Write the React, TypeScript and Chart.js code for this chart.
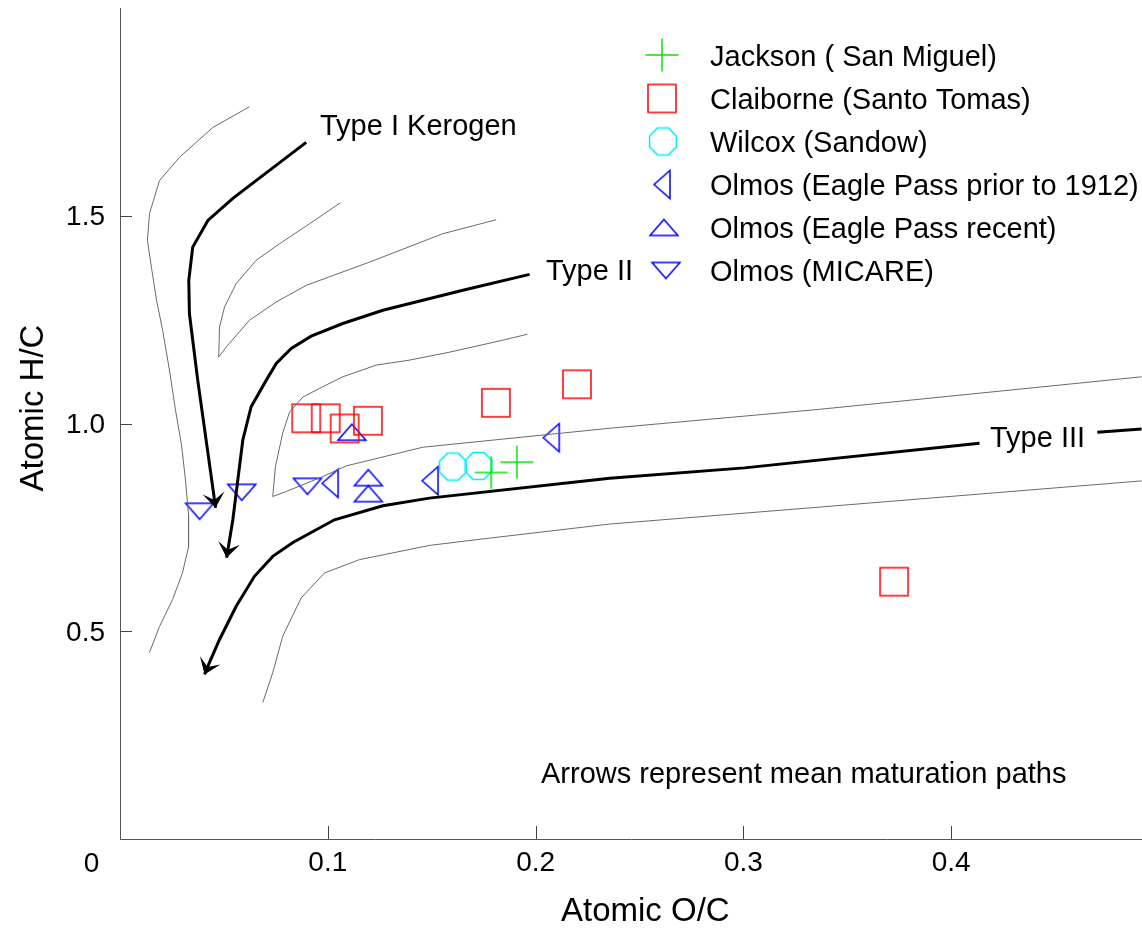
import React, { useEffect, useRef } from 'react';
import { Chart, registerables } from 'chart.js';

Chart.register(...registerables);

const FONT = '"Liberation Sans", Arial, Helvetica, sans-serif';

// Axis ranges and tick labels
const X_MIN = 0;
const X_MAX = 0.4918;
const Y_MIN = 0;
const Y_MAX = 2.0;
const xTickValues = [0.1, 0.2, 0.3, 0.4];
const yTickValues = [0.5, 1.0, 1.5];

// Sample series (Atomic O/C, Atomic H/C)
const jacksonX = [0.1786, 0.191];
const jacksonY = [0.882, 0.907];
const claiborneX = [0.0896, 0.099, 0.1081, 0.1193, 0.1809, 0.2199, 0.3725];
const claiborneY = [1.0125, 1.0125, 0.988, 1.0065, 1.0497, 1.0944, 0.6194];
const wilcoxX = [0.1602, 0.1725];
const wilcoxY = [0.8963, 0.8979];
const olmosPriorX = [0.1011, 0.1492, 0.2075];
const olmosPriorY = [0.856, 0.8624, 0.9659];
const olmosRecentX = [0.1116, 0.1195, 0.1195];
const olmosRecentY = [0.979, 0.8696, 0.8312];
const olmosMicareX = [0.0383, 0.0586, 0.0902];
const olmosMicareY = [0.7887, 0.8343, 0.8487];

// Mean maturation paths (arrow tip is the last point)
const typeIX = [0.0896, 0.0543, 0.0423, 0.035, 0.0331, 0.0334, 0.0374, 0.046];
const typeIY = [1.6766, 1.5419, 1.4886, 1.4245, 1.3445, 1.2646, 1.1044, 0.7971];
const typeIIX = [0.1971, 0.165, 0.1265, 0.1072, 0.092, 0.0824, 0.0752, 0.0704, 0.0631, 0.0591, 0.0567, 0.0543, 0.0513];
const typeIIY = [1.3589, 1.3205, 1.2725, 1.2406, 1.2101, 1.1806, 1.1446, 1.1044, 1.0403, 0.9604, 0.8643, 0.7683, 0.6771];
const typeIIIX = [0.4916, 0.4703, 0.44, 0.4136, 0.3005, 0.2356, 0.1489, 0.1265, 0.1032, 0.0832, 0.0735, 0.0647, 0.0559, 0.0479, 0.0423, 0.0407];
const typeIIIY = [0.9868, 0.9789, null, 0.9524, 0.8932, 0.8684, 0.8204, 0.8019, 0.7683, 0.7138, 0.6802, 0.6322, 0.5601, 0.4802, 0.4161, 0.3962];

// Envelope (boundary) lines
const envAX = [0.0623, 0.0447, 0.0286, 0.019, 0.0142, 0.0132, 0.0152, 0.0176, 0.0205, 0.0238, 0.0267, 0.0296, 0.0315, 0.033, 0.033, 0.0301, 0.0253, 0.019, 0.0142];
const envAY = [1.7623, 1.7126, 1.6406, 1.5846, 1.5054, 1.4406, 1.3733, 1.2965, 1.2245, 1.1285, 1.0324, 0.9484, 0.8643, 0.7803, 0.7035, 0.641, 0.5762, 0.5114, 0.449];
const envBX = [0.106, 0.0912, 0.0768, 0.0655, 0.0559, 0.0503, 0.0479, 0.0475, 0.0519, 0.0623, 0.0752, 0.0896, 0.1201, 0.1553, 0.181];
const envBY = [1.5311, 1.4807, 1.4327, 1.3926, 1.3366, 1.2804, 1.2324, 1.1604, 1.1885, 1.2485, 1.2925, 1.3325, 1.3885, 1.4567, 1.4903];
const envCX = [0.1961, 0.1842, 0.1586, 0.1393, 0.1233, 0.1072, 0.096, 0.088, 0.0816, 0.0783, 0.0748, 0.0735, 0.08, 0.0976, 0.1089, 0.1457, 0.2356, 0.3366, 0.4916];
const envCY = [1.2149, 1.2005, 1.1717, 1.1525, 1.1405, 1.1124, 1.0845, 1.0636, 1.0276, 0.9772, 0.8963, 0.8243, 0.8363, 0.8723, 0.898, 0.9429, 0.9885, 1.0341, 1.1124];
const envDX = [0.0687, 0.0735, 0.0783, 0.0872, 0.0984, 0.1152, 0.1489, 0.1714, 0.2356, 0.3366, 0.4916];
const envDY = [0.3282, 0.4002, 0.4881, 0.5803, 0.6403, 0.6723, 0.7066, 0.7203, 0.758, 0.7988, 0.8619];

const seriesLabels = [
  'Jackson ( San Miguel)',
  'Claiborne (Santo Tomas)',
  'Wilcox (Sandow)',
  'Olmos (Eagle Pass prior to 1912)',
  'Olmos (Eagle Pass recent)',
  'Olmos (MICARE)',
];

const zip = (xs: number[], ys: (number | null)[]) => xs.map((x, i) => ({ x, y: ys[i] }));

function makeMarker(kind: string, color: string): HTMLCanvasElement {
  const size = 40;
  const c = document.createElement('canvas');
  c.width = size;
  c.height = size;
  const g = c.getContext('2d') as CanvasRenderingContext2D;
  g.strokeStyle = color;
  g.lineWidth = 1.5;
  const m = size / 2;
  g.beginPath();
  if (kind === 'plus') {
    g.moveTo(m - 16.5, m);
    g.lineTo(m + 16.5, m);
    g.moveTo(m, m - 16.5);
    g.lineTo(m, m + 16.5);
  } else if (kind === 'square') {
    g.rect(m - 14, m - 14, 28, 28);
  } else if (kind === 'octagon') {
    for (let k = 0; k < 8; k++) {
      const a = Math.PI / 8 + (k * Math.PI) / 4;
      const px = m + 14.5 * Math.cos(a);
      const py = m + 14.5 * Math.sin(a);
      if (k === 0) g.moveTo(px, py);
      else g.lineTo(px, py);
    }
    g.closePath();
  } else if (kind === 'left') {
    g.moveTo(m - 8, m);
    g.lineTo(m + 8, m - 14);
    g.lineTo(m + 8, m + 14);
    g.closePath();
  } else if (kind === 'up') {
    g.moveTo(m, m - 8);
    g.lineTo(m + 14, m + 8);
    g.lineTo(m - 14, m + 8);
    g.closePath();
  } else if (kind === 'down') {
    g.moveTo(m, m + 8);
    g.lineTo(m + 14, m - 8);
    g.lineTo(m - 14, m - 8);
    g.closePath();
  }
  g.stroke();
  return c;
}

const ticksPlugin = {
  id: 'innerTicks',
  afterDraw(chart: any) {
    const { ctx, chartArea, scales } = chart;
    ctx.save();
    ctx.strokeStyle = '#444';
    ctx.lineWidth = 1;
    ctx.beginPath();
    xTickValues.forEach((v) => {
      const px = Math.round(scales.x.getPixelForValue(v)) + 0.5;
      ctx.moveTo(px, chartArea.bottom);
      ctx.lineTo(px, chartArea.bottom - 13);
    });
    yTickValues.forEach((v) => {
      const py = Math.round(scales.y.getPixelForValue(v)) + 0.5;
      ctx.moveTo(chartArea.left, py);
      ctx.lineTo(chartArea.left + 12, py);
    });
    ctx.stroke();
    ctx.restore();
  },
};

const arrowPlugin = {
  id: 'arrowHeads',
  afterDatasetsDraw(chart: any) {
    const ctx = chart.ctx;
    chart.data.datasets.forEach((ds: any, i: number) => {
      if (!ds.arrow) return;
      const pts = chart.getDatasetMeta(i).data;
      const a = pts[pts.length - 2];
      const b = pts[pts.length - 1];
      const dx = b.x - a.x;
      const dy = b.y - a.y;
      const len = Math.hypot(dx, dy) || 1;
      const ux = dx / len;
      const uy = dy / len;
      const nx = -uy;
      const ny = ux;
      const L = 15;
      const W = 11;
      const N = 8;
      ctx.save();
      ctx.fillStyle = '#000';
      ctx.beginPath();
      ctx.moveTo(b.x, b.y);
      ctx.lineTo(b.x - ux * L + nx * W, b.y - uy * L + ny * W);
      ctx.lineTo(b.x - ux * N, b.y - uy * N);
      ctx.lineTo(b.x - ux * L - nx * W, b.y - uy * L - ny * W);
      ctx.closePath();
      ctx.fill();
      ctx.restore();
    });
  },
};

const legendX = [662, 662, 663, 662, 664, 666];
const legendRowY = [55, 98.5, 141.5, 184.5, 227.5, 270.5];

const textPlugin = {
  id: 'texts',
  afterDraw(chart: any) {
    const ctx = chart.ctx;
    ctx.save();
    ctx.fillStyle = '#000';
    ctx.textBaseline = 'alphabetic';
    // origin label
    ctx.font = `28px ${FONT}`;
    ctx.textAlign = 'center';
    ctx.fillText('0', 91.5, 871.5);
    // axis titles
    ctx.font = `33px ${FONT}`;
    ctx.textAlign = 'left';
    ctx.fillText('Atomic O/C', 561, 921);
    ctx.save();
    ctx.translate(43, 408);
    ctx.rotate(-Math.PI / 2);
    ctx.textAlign = 'center';
    ctx.fillText('Atomic H/C', 0, 0);
    ctx.restore();
    // annotations
    ctx.font = `29px ${FONT}`;
    ctx.textAlign = 'left';
    ctx.fillText('Type I Kerogen', 320, 135);
    ctx.fillText('Type II', 546, 280);
    ctx.fillText('Type III', 990, 447);
    ctx.fillText('Arrows represent mean maturation paths', 541, 783);
    // legend
    const markerSets = chart.data.datasets.filter((d: any) => d.isSeries);
    markerSets.forEach((d: any, k: number) => {
      const img = d.pointStyle as HTMLCanvasElement;
      ctx.drawImage(img, legendX[k] - img.width / 2, legendRowY[k] - img.height / 2);
      ctx.fillText(d.label, 710, legendRowY[k] + 10.5);
    });
    ctx.restore();
  },
};

export default function App() {
  const ref = useRef<HTMLCanvasElement | null>(null);

  useEffect(() => {
    if (!ref.current) return;
    const thin = (data: any[]) => ({
      data,
      showLine: true,
      borderColor: '#6a6a6a',
      borderWidth: 1,
      pointRadius: 0,
      fill: false,
      tension: 0,
    });
    const thick = (data: any[]) => ({
      data,
      showLine: true,
      borderColor: '#000',
      borderWidth: 3,
      pointRadius: 0,
      fill: false,
      tension: 0,
      spanGaps: false,
      arrow: true,
    });
    const series = (label: string, data: any[], kind: string, color: string) => ({
      label,
      data,
      isSeries: true,
      showLine: false,
      pointStyle: makeMarker(kind, color),
      pointRadius: 10,
      borderColor: color,
      backgroundColor: 'transparent',
    });

    const chart = new Chart(ref.current, {
      type: 'scatter',
      data: {
        datasets: [
          thin(zip(envAX, envAY)),
          thin(zip(envBX, envBY)),
          thin(zip(envCX, envCY)),
          thin(zip(envDX, envDY)),
          thick(zip(typeIX, typeIY)),
          thick(zip(typeIIX, typeIIY)),
          thick(zip(typeIIIX, typeIIIY)),
          series(seriesLabels[0], zip(jacksonX, jacksonY), 'plus', '#00e600'),
          series(seriesLabels[1], zip(claiborneX, claiborneY), 'square', '#ff0000'),
          series(seriesLabels[2], zip(wilcoxX, wilcoxY), 'octagon', '#00f0f0'),
          series(seriesLabels[3], zip(olmosPriorX, olmosPriorY), 'left', '#0000ff'),
          series(seriesLabels[4], zip(olmosRecentX, olmosRecentY), 'up', '#0000ff'),
          series(seriesLabels[5], zip(olmosMicareX, olmosMicareY), 'down', '#0000ff'),
        ] as any,
      },
      options: {
        responsive: false,
        animation: false,
        layout: { autoPadding: false, padding: { top: 8, right: 0, left: 0, bottom: 0 } },
        plugins: {
          legend: { display: false },
          tooltip: { enabled: false },
        },
        scales: {
          x: {
            type: 'linear',
            min: X_MIN,
            max: X_MAX,
            afterFit: (s: any) => {
              s.height = 89;
              s.paddingLeft = 0;
              s.paddingRight = 0;
            },
            grid: { display: false, drawTicks: false },
            border: { display: true, color: '#555', width: 1 },
            ticks: {
              stepSize: 0.1,
              includeBounds: false,
              padding: 7,
              color: '#000',
              font: { family: FONT, size: 28 },
              maxRotation: 0,
              autoSkip: false,
              callback: (v: any) => (xTickValues.some((t) => Math.abs(t - v) < 1e-6) ? Number(v).toFixed(1) : ''),
            },
          },
          y: {
            type: 'linear',
            min: Y_MIN,
            max: Y_MAX,
            afterFit: (s: any) => {
              s.width = 120;
              s.paddingTop = 0;
              s.paddingBottom = 0;
            },
            grid: { display: false, drawTicks: false },
            border: { display: true, color: '#555', width: 1 },
            ticks: {
              stepSize: 0.5,
              padding: 15,
              labelOffset: 2,
              color: '#000',
              font: { family: FONT, size: 28 },
              autoSkip: false,
              callback: (v: any) => (yTickValues.some((t) => Math.abs(t - v) < 1e-6) ? Number(v).toFixed(1) : ''),
            },
          },
        },
      } as any,
      plugins: [ticksPlugin, arrowPlugin, textPlugin],
    });
    return () => chart.destroy();
  }, []);

  return (
    <div style={{ position: 'absolute', left: 0, top: 0, width: 1142, height: 928, background: '#fff' }}>
      <canvas ref={ref} width={1142} height={928} style={{ width: 1142, height: 928, display: 'block' }} />
    </div>
  );
}
